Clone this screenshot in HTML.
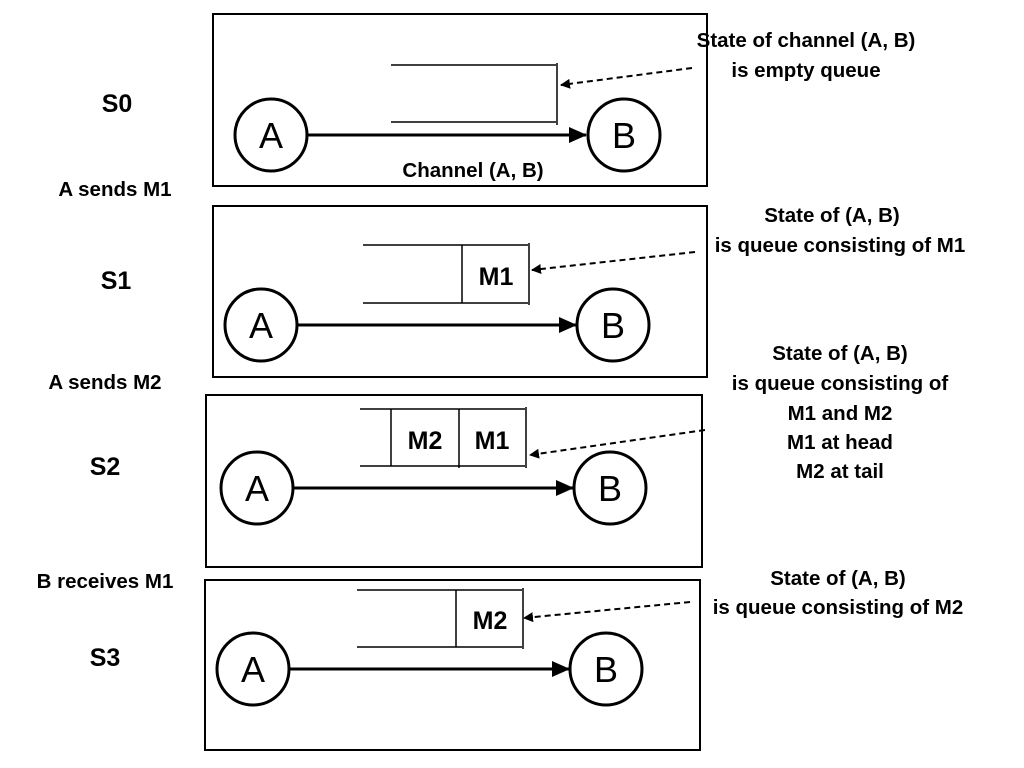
<!DOCTYPE html>
<html><head><style>body{margin:0;background:#fff}svg{display:block}text{font-family:"Liberation Sans",sans-serif;font-weight:bold;fill:#000}</style></head><body>
<svg width="1024" height="768" viewBox="0 0 1024 768" xmlns="http://www.w3.org/2000/svg">
<defs>
<marker id="ah" markerWidth="10" markerHeight="10" refX="9" refY="5" orient="auto" markerUnits="userSpaceOnUse" viewBox="0 0 10 10"><path d="M0,0 L10,5 L0,10z" fill="#000"/></marker>
<marker id="big" markerWidth="18" markerHeight="16" refX="17" refY="8" orient="auto" markerUnits="userSpaceOnUse"><path d="M0,0 L18,8 L0,16z" fill="#000"/></marker>
</defs>
<g fill="none" stroke="#000">
<rect x="213" y="14" width="494" height="172" stroke-width="2"/>
<rect x="213" y="206" width="494" height="171" stroke-width="2"/>
<rect x="206" y="395" width="496" height="172" stroke-width="2"/>
<rect x="205" y="580" width="495" height="170" stroke-width="2"/>
<g stroke-width="3">
<circle cx="271" cy="135" r="36"/><circle cx="624" cy="135" r="36"/>
<circle cx="261" cy="325" r="36"/><circle cx="613" cy="325" r="36"/>
<circle cx="257" cy="488" r="36"/><circle cx="610" cy="488" r="36"/>
<circle cx="253" cy="669" r="36"/><circle cx="606" cy="669" r="36"/>
<line x1="308" y1="135" x2="586" y2="135" marker-end="url(#big)"/>
<line x1="298" y1="325" x2="576" y2="325" marker-end="url(#big)"/>
<line x1="294" y1="488" x2="573" y2="488" marker-end="url(#big)"/>
<line x1="290" y1="669" x2="569" y2="669" marker-end="url(#big)"/>
</g>
<g stroke-width="1.5">
<path d="M391 65H556M391 122H556M557 63V125"/>
<path d="M363 245H528M363 303H528M462 245V303M529 243V305"/>
<path d="M360 409H525M360 466H525M391 409V466M459 409V468M526 407V468"/>
<path d="M357 590H522M357 647H522M456 590V647M523 588V649"/>
</g>
<g stroke-width="2" stroke-dasharray="6,4">
<line x1="692" y1="68" x2="561" y2="85" marker-end="url(#ah)"/>
<line x1="695" y1="252" x2="532" y2="270" marker-end="url(#ah)"/>
<line x1="705" y1="430" x2="530" y2="455" marker-end="url(#ah)"/>
<line x1="690" y1="602" x2="524" y2="618" marker-end="url(#ah)"/>
</g>
</g>
<g font-size="36" text-anchor="middle">
<text x="271" y="148" style="font-weight:normal">A</text><text x="624" y="148" style="font-weight:normal">B</text>
<text x="261" y="338" style="font-weight:normal">A</text><text x="613" y="338" style="font-weight:normal">B</text>
<text x="257" y="501" style="font-weight:normal">A</text><text x="610" y="501" style="font-weight:normal">B</text>
<text x="253" y="682" style="font-weight:normal">A</text><text x="606" y="682" style="font-weight:normal">B</text>
</g>
<g font-size="25" text-anchor="middle">
<text x="117" y="112">S0</text><text x="116" y="289">S1</text><text x="105" y="475">S2</text><text x="105" y="666">S3</text>
</g>
<g font-size="25" text-anchor="middle">
<text x="496" y="285">M1</text><text x="425" y="449">M2</text><text x="492" y="449">M1</text><text x="490" y="629">M2</text>
</g>
<g font-size="20.5" text-anchor="middle">
<text x="115" y="196">A sends M1</text>
<text x="105" y="389">A sends M2</text>
<text x="105" y="588">B receives M1</text>
<text x="473" y="177">Channel (A, B)</text>
<text x="806" y="47">State of channel (A, B)</text>
<text x="806" y="77">is empty queue</text>
<text x="832" y="222">State of (A, B)</text>
<text x="840" y="252">is queue consisting of M1</text>
<text x="840" y="360">State of (A, B)</text>
<text x="840" y="390">is queue consisting of</text>
<text x="840" y="420">M1 and M2</text>
<text x="840" y="449">M1 at head</text>
<text x="840" y="478">M2 at tail</text>
<text x="838" y="585">State of (A, B)</text>
<text x="838" y="614">is queue consisting of M2</text>
</g>
</svg>
</body></html>
